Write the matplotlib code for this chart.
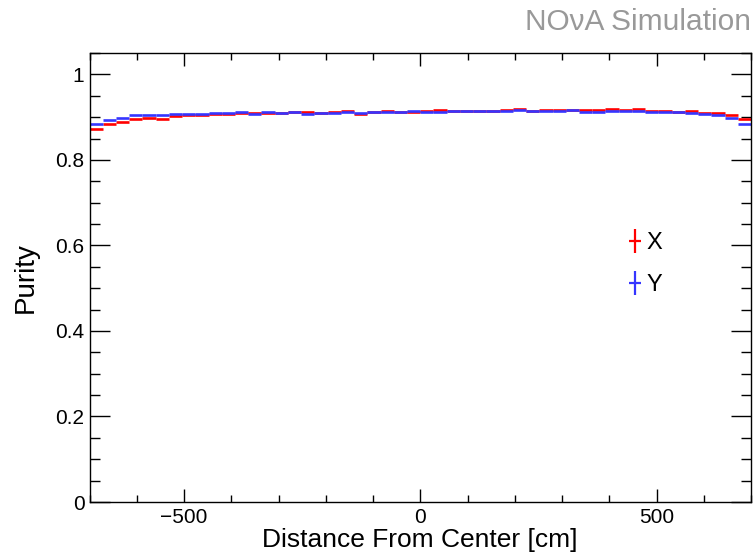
import numpy as np
import matplotlib
matplotlib.use("Agg")
import matplotlib.pyplot as plt
from matplotlib.path import Path
from matplotlib.lines import Line2D
from matplotlib.ticker import MultipleLocator

plt.rcParams['font.family'] = ['Liberation Sans', 'DejaVu Sans']

# 50 bins from -700 to 700 cm
bin_edges = np.linspace(-700, 700, 51)

purity_x = [0.873, 0.885, 0.8895, 0.895, 0.899, 0.8965, 0.903, 0.9044, 0.9044, 0.907,
            0.9075, 0.909, 0.909, 0.910, 0.9106, 0.9122, 0.9125, 0.9106, 0.9114, 0.9145,
            0.908, 0.9114, 0.9153, 0.9122, 0.9122, 0.9153, 0.9176, 0.9137, 0.9137, 0.9137,
            0.9153, 0.9169, 0.920, 0.9153, 0.9169, 0.916, 0.916, 0.916, 0.9169, 0.9184,
            0.9169, 0.9184, 0.9145, 0.9153, 0.9122, 0.9145, 0.910, 0.910, 0.906, 0.895]

purity_y = [0.884, 0.8934, 0.898, 0.9044, 0.906, 0.906, 0.9075, 0.9075, 0.908, 0.910,
            0.909, 0.9122, 0.9075, 0.9122, 0.909, 0.9122, 0.908, 0.9106, 0.9106, 0.9114,
            0.9106, 0.9122, 0.9114, 0.9114, 0.9137, 0.9122, 0.9122, 0.9153, 0.9137, 0.9145,
            0.9153, 0.9153, 0.9165, 0.9145, 0.9137, 0.9145, 0.916, 0.9122, 0.9122, 0.9137,
            0.9137, 0.9145, 0.9114, 0.913, 0.9114, 0.9106, 0.9075, 0.9044, 0.898, 0.885]

series = [("X", purity_x, "#ff0000"), ("Y", purity_y, "#3535ff")]

centers = 0.5 * (bin_edges[:-1] + bin_edges[1:])
half_w = 0.5 * np.diff(bin_edges)

fig = plt.figure(figsize=(7.54, 5.56), dpi=100)
ax = fig.add_axes([89.5 / 754, 1 - 502 / 556, (751 - 89.5) / 754, (502 - 53) / 556])

for name, vals, col in series:
    ax.errorbar(centers, vals, xerr=half_w, fmt='none', ecolor=col, elinewidth=1.9, capsize=0)

ax.set_xlim(-700, 700)
ax.set_ylim(0, 1.05)
ax.xaxis.set_major_locator(MultipleLocator(500))
ax.xaxis.set_minor_locator(MultipleLocator(100))
ax.yaxis.set_major_locator(MultipleLocator(0.2))
ax.yaxis.set_minor_locator(MultipleLocator(0.05))
ax.set_yticks([0, 0.2, 0.4, 0.6, 0.8, 1.0])
ax.set_yticklabels(["0", "0.2", "0.4", "0.6", "0.8", "1"])
ax.set_xticks([-500, 0, 500])
ax.set_xticklabels(["\u2212500", "0", "500"])

ax.tick_params(axis='both', which='both', direction='in', top=True, right=True,
               labelsize=15, width=1.0, color='black')
ax.tick_params(axis='x', which='major', length=9.2, pad=4)
ax.tick_params(axis='x', which='minor', length=4.7)
ax.tick_params(axis='y', which='major', length=14.4, pad=3.6)
ax.tick_params(axis='y', which='minor', length=7.2)
for sp in ax.spines.values():
    sp.set_linewidth(1.0)

ax.set_xlabel("Distance From Center [cm]", fontsize=19, labelpad=1)
ax.set_ylabel("Purity", fontsize=20, labelpad=12)

# legend: error-bar style crosses
cross = Path([(0, -1), (0, 1), (-0.5, 0), (0.5, 0)],
             [Path.MOVETO, Path.LINETO, Path.MOVETO, Path.LINETO])
handles = [Line2D([], [], linestyle='none', marker=cross, markersize=17.5,
                  markeredgecolor=col, markerfacecolor='none', markeredgewidth=1.6)
           for _, _, col in series]
ax.legend(handles, [s[0] for s in series], loc='upper left',
          bbox_to_anchor=(628 / 754, 1 - 232 / 556), bbox_transform=fig.transFigure,
          frameon=False, fontsize=17, handlelength=0.6, handletextpad=0.2,
          labelspacing=0.86, borderpad=0, borderaxespad=0)

fig.text(751 / 754, 1 - 30 / 556, "NO\u03bdA Simulation", color='#999999',
         fontsize=21.5, ha='right', va='baseline')

fig.savefig("out.png", dpi=100)
